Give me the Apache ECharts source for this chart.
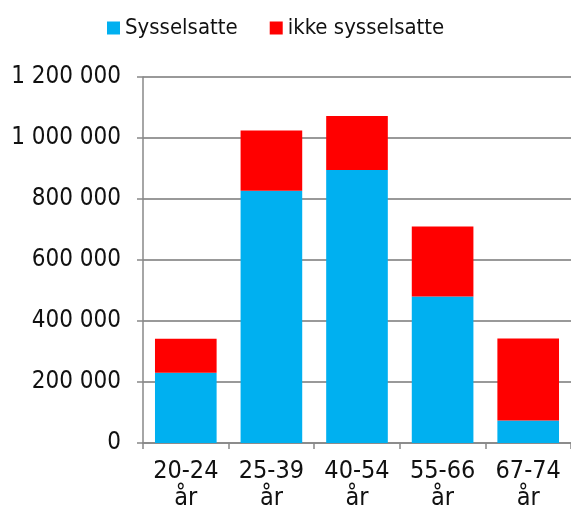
<!DOCTYPE html>
<html>
<head>
<meta charset="utf-8">
<script src="https://cdn.jsdelivr.net/npm/echarts@6/dist/echarts.min.js"></script>
<style>
  html, body { margin: 0; padding: 0; background: #fff; }
  #chart { width: 571px; height: 514px; }
</style>
</head>
<body>
<div id="chart"></div>
<script>
  // aldersgrupper
  var categories = ['20-24\når', '25-39\når', '40-54\når', '55-66\når', '67-74\når'];
  var sysselsatte = [230000, 827000, 895000, 480000, 74000];
  var ikkeSysselsatte = [112000, 198000, 177000, 230000, 269000];

  var font = '"DejaVu Sans Condensed", sans-serif';

  var chart = echarts.init(document.getElementById('chart'));
  chart.setOption({
    animation: false,
    textStyle: { fontFamily: font },
    legend: {
      top: 12,
      left: 102,
      itemWidth: 13,
      itemHeight: 13,
      itemGap: 32,
      icon: 'rect',
      textStyle: { fontSize: 22, color: '#111', fontFamily: font },
      data: ['Sysselsatte', 'ikke sysselsatte']
    },
    grid: {
      left: 143,
      right: 0,
      top: 77,
      bottom: 71
    },
    xAxis: {
      type: 'category',
      data: categories,
      axisLine: { lineStyle: { color: '#888', width: 1.5 } },
      axisTick: { show: true, length: 6, lineStyle: { color: '#888', width: 1.5 } },
      axisLabel: {
        interval: 0,
        color: '#111',
        fontSize: 25,
        lineHeight: 27,
        margin: 15,
        fontFamily: font
      }
    },
    yAxis: {
      type: 'value',
      min: 0,
      max: 1200000,
      interval: 200000,
      axisLine: { show: true, lineStyle: { color: '#888', width: 1.5 } },
      axisTick: { show: true, length: 6, lineStyle: { color: '#888', width: 1.5 } },
      splitLine: { lineStyle: { color: '#999', width: 1.8 } },
      axisLabel: {
        color: '#111',
        fontSize: 24,
        margin: 22,
        fontFamily: font,
        formatter: function (v) {
          return String(v).replace(/\B(?=(\d{3})+(?!\d))/g, ' ');
        }
      }
    },
    series: [
      {
        name: 'Sysselsatte',
        type: 'bar',
        stack: 'total',
        barCategoryGap: '28%',
        itemStyle: { color: '#00B0F0' },
        data: sysselsatte
      },
      {
        name: 'ikke sysselsatte',
        type: 'bar',
        stack: 'total',
        itemStyle: { color: '#FF0000' },
        data: ikkeSysselsatte
      }
    ]
  });
</script>
</body>
</html>
